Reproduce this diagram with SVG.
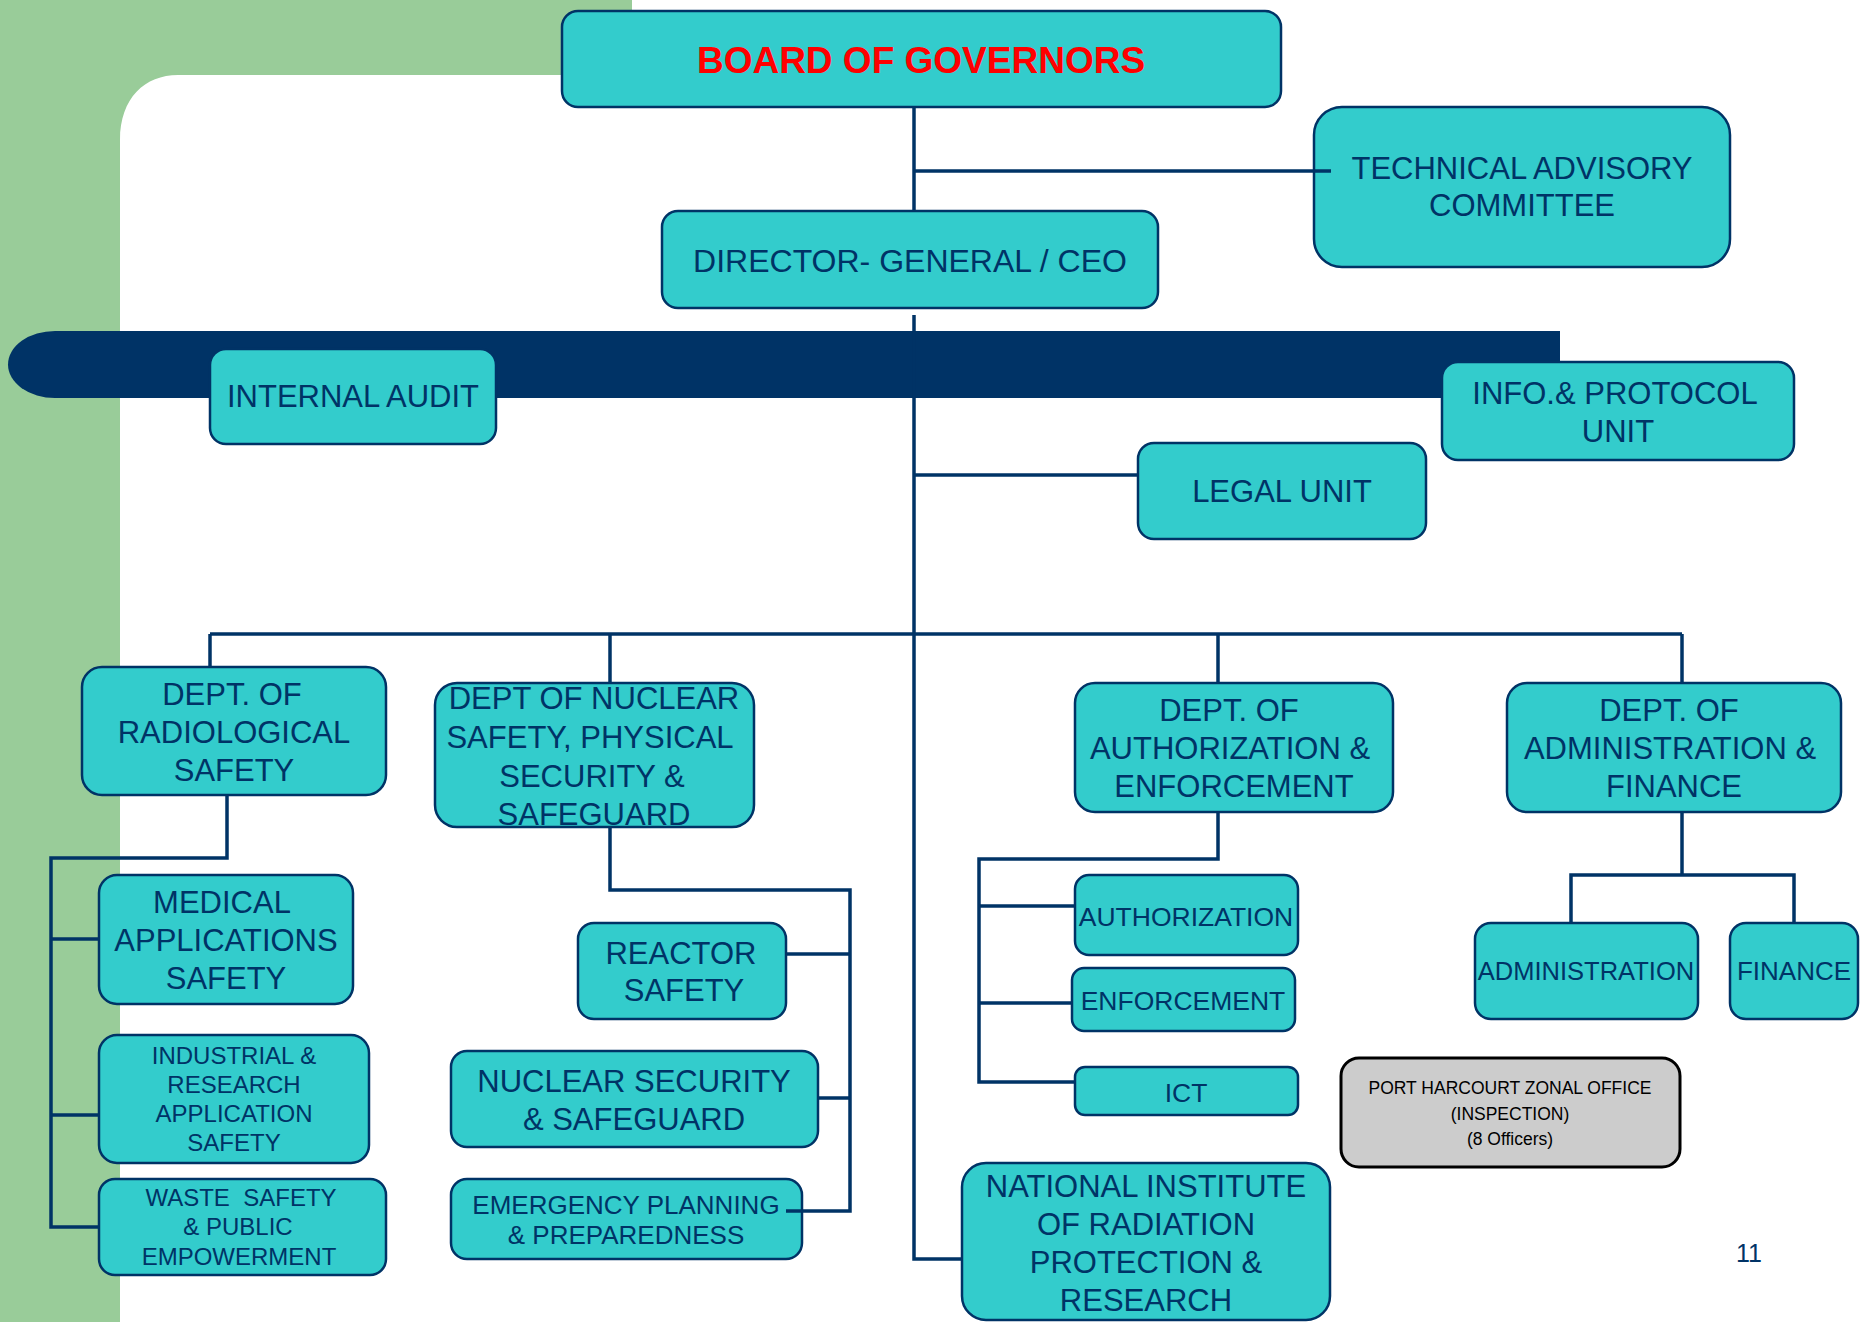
<svg xmlns="http://www.w3.org/2000/svg" width="1871" height="1322" viewBox="0 0 1871 1322">
<style>
.n{fill:#33CCCC;stroke:#003366;stroke-width:2.5}
.g{fill:#CCCCCC;stroke:#000;stroke-width:3}
.t{font-family:"Liberation Sans",Arial,sans-serif;fill:#003366;text-anchor:middle}
.c{fill:none;stroke:#003366;stroke-width:3.5}
</style>
<rect width="1871" height="1322" fill="#ffffff"/>
<path d="M0,0 H632 V75 H178 C145,75 120,98 120,140 V1322 H0 Z" fill="#99CC99"/>
<path d="M1560,331 H55 A47,33.5 0 0 0 55,398 H1560 Z" fill="#003366"/>
<g id="board">
<rect class="n" x="562" y="11" width="719" height="96" rx="16"/>
<text x="921" y="73" font-family="Liberation Sans,Arial,sans-serif" font-weight="bold" font-size="37" fill="#FF0000" text-anchor="middle">BOARD OF GOVERNORS</text>
</g>
<g id="tac">
<rect class="n" x="1314" y="107" width="416" height="160" rx="28"/>
<text class="t" font-size="31"><tspan x="1522" y="179">TECHNICAL ADVISORY</tspan><tspan x="1522" y="216">COMMITTEE</tspan></text>
</g>
<g id="dg">
<rect class="n" x="662" y="211" width="496" height="97" rx="16"/>
<text class="t" font-size="32" x="910" y="272">DIRECTOR- GENERAL / CEO</text>
</g>
<g id="internal-audit">
<rect class="n" x="210" y="349" width="286" height="95" rx="16"/>
<text class="t" font-size="31" x="353" y="407">INTERNAL AUDIT</text>
</g>
<g id="info">
<rect class="n" x="1442" y="362" width="352" height="98" rx="16"/>
<text class="t" font-size="31"><tspan x="1615" y="404">INFO.&amp; PROTOCOL</tspan><tspan x="1618" y="442">UNIT</tspan></text>
</g>
<g id="legal">
<rect class="n" x="1138" y="443" width="288" height="96" rx="16"/>
<text class="t" font-size="31" x="1282" y="502">LEGAL UNIT</text>
</g>
<g id="dept-rad">
<rect class="n" x="82" y="667" width="304" height="128" rx="20"/>
<text class="t" font-size="31"><tspan x="232" y="705">DEPT. OF</tspan><tspan x="234" y="743">RADIOLOGICAL</tspan><tspan x="234" y="781">SAFETY</tspan></text>
</g>
<g id="dept-nuc">
<rect class="n" x="435" y="683" width="319" height="144" rx="22"/>
<text class="t" font-size="31"><tspan x="594" y="709">DEPT OF NUCLEAR</tspan><tspan x="590" y="748">SAFETY, PHYSICAL</tspan><tspan x="592" y="787">SECURITY &amp;</tspan><tspan x="594" y="825">SAFEGUARD</tspan></text>
</g>
<g id="dept-auth">
<rect class="n" x="1075" y="683" width="318" height="129" rx="20"/>
<text class="t" font-size="31"><tspan x="1229" y="721">DEPT. OF</tspan><tspan x="1230" y="759">AUTHORIZATION &amp;</tspan><tspan x="1234" y="797">ENFORCEMENT</tspan></text>
</g>
<g id="dept-admin">
<rect class="n" x="1507" y="683" width="334" height="129" rx="20"/>
<text class="t" font-size="31"><tspan x="1669" y="721">DEPT. OF</tspan><tspan x="1670" y="759">ADMINISTRATION &amp;</tspan><tspan x="1674" y="797">FINANCE</tspan></text>
</g>
<g id="medical">
<rect class="n" x="99" y="875" width="254" height="129" rx="18"/>
<text class="t" font-size="31"><tspan x="222" y="913">MEDICAL</tspan><tspan x="226" y="951">APPLICATIONS</tspan><tspan x="226" y="989">SAFETY</tspan></text>
</g>
<g id="industrial">
<rect class="n" x="99" y="1035" width="270" height="128" rx="18"/>
<text class="t" font-size="24"><tspan x="234" y="1064">INDUSTRIAL &amp;</tspan><tspan x="234" y="1093">RESEARCH</tspan><tspan x="234" y="1122">APPLICATION</tspan><tspan x="234" y="1151">SAFETY</tspan></text>
</g>
<g id="waste">
<rect class="n" x="99" y="1179" width="287" height="96" rx="16"/>
<text class="t" font-size="24" xml:space="preserve"><tspan x="241" y="1206">WASTE  SAFETY</tspan><tspan x="238" y="1235">&amp; PUBLIC</tspan><tspan x="239" y="1265">EMPOWERMENT</tspan></text>
</g>
<g id="reactor">
<rect class="n" x="578" y="923" width="208" height="96" rx="16"/>
<text class="t" font-size="31"><tspan x="681" y="964">REACTOR</tspan><tspan x="684" y="1001">SAFETY</tspan></text>
</g>
<g id="nucsec">
<rect class="n" x="451" y="1051" width="367" height="96" rx="16"/>
<text class="t" font-size="31"><tspan x="634" y="1092">NUCLEAR SECURITY</tspan><tspan x="634" y="1130">&amp; SAFEGUARD</tspan></text>
</g>
<g id="emergency">
<rect class="n" x="451" y="1179" width="351" height="80" rx="16"/>
<text class="t" font-size="26"><tspan x="626" y="1214">EMERGENCY PLANNING</tspan><tspan x="626" y="1244">&amp; PREPAREDNESS</tspan></text>
</g>
<g id="authorization">
<rect class="n" x="1075" y="875" width="223" height="80" rx="14"/>
<text class="t" font-size="26.5" x="1186" y="926">AUTHORIZATION</text>
</g>
<g id="enforcement">
<rect class="n" x="1072" y="968" width="223" height="63" rx="12"/>
<text class="t" font-size="26.5" x="1183" y="1010">ENFORCEMENT</text>
</g>
<g id="ict">
<rect class="n" x="1075" y="1067" width="223" height="48" rx="10"/>
<text class="t" font-size="26.5" x="1186" y="1102">ICT</text>
</g>
<g id="administration">
<rect class="n" x="1475" y="923" width="223" height="96" rx="16"/>
<text class="t" font-size="25.5" x="1586" y="980">ADMINISTRATION</text>
</g>
<g id="finance">
<rect class="n" x="1730" y="923" width="128" height="96" rx="16"/>
<text class="t" font-size="26" x="1794" y="980">FINANCE</text>
</g>
<g id="port-harcourt">
<rect class="g" x="1341" y="1058" width="339" height="109" rx="18"/>
<text font-family="Liberation Sans,Arial,sans-serif" font-size="17.5" fill="#000" text-anchor="middle"><tspan x="1510" y="1094">PORT HARCOURT ZONAL OFFICE</tspan><tspan x="1510" y="1120">(INSPECTION)</tspan><tspan x="1510" y="1145">(8 Officers)</tspan></text>
</g>
<g id="nirpr">
<rect class="n" x="962" y="1163" width="368" height="157" rx="24"/>
<text class="t" font-size="31"><tspan x="1146" y="1197">NATIONAL INSTITUTE</tspan><tspan x="1146" y="1235">OF RADIATION</tspan><tspan x="1146" y="1273">PROTECTION &amp;</tspan><tspan x="1146" y="1311">RESEARCH</tspan></text>
</g>
<g id="connectors">
<path class="c" d="M914,107 V211"/>
<path class="c" d="M914,171 H1331"/>
<path class="c" d="M914,315 V1259 H962"/>
<path class="c" d="M914,475 H1138"/>
<path class="c" d="M210,634 H1682"/>
<path class="c" d="M210,634 V667"/>
<path class="c" d="M610,634 V683"/>
<path class="c" d="M1218,634 V683"/>
<path class="c" d="M1682,634 V683"/>
<path class="c" d="M227,795 V858 H51 V1227 H99"/>
<path class="c" d="M51,939 H99"/>
<path class="c" d="M51,1115 H99"/>
<path class="c" d="M610,827 V890 H850 V1211 H786"/>
<path class="c" d="M786,954 H850"/>
<path class="c" d="M818,1098 H850"/>
<path class="c" d="M1218,812 V859 H979 V1082 H1075"/>
<path class="c" d="M979,906 H1075"/>
<path class="c" d="M979,1003 H1072"/>
<path class="c" d="M1682,812 V875"/>
<path class="c" d="M1571,923 V875 H1794 V923"/>
</g>
<text class="t" font-size="25" x="1749" y="1262">11</text>
</svg>
